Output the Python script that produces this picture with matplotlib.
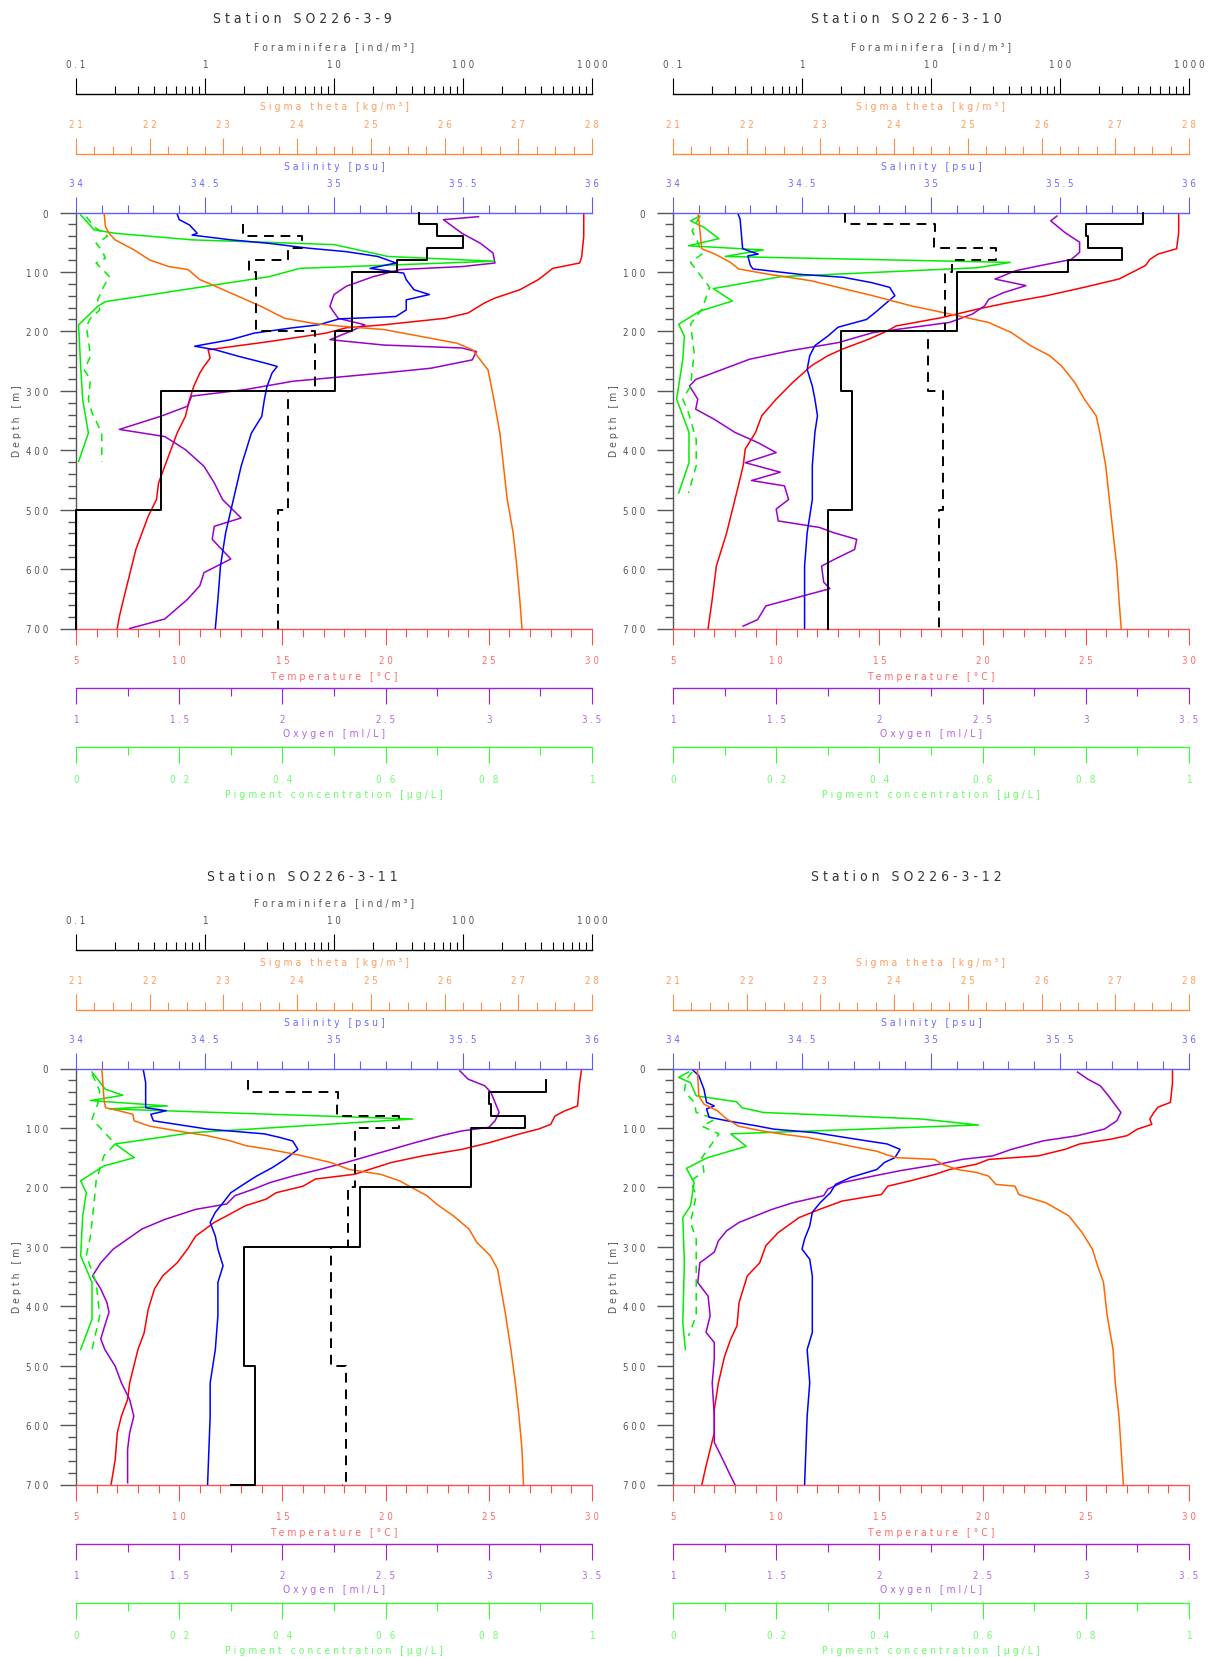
import numpy as np
import matplotlib
matplotlib.use("Agg")
import matplotlib.pyplot as plt
from matplotlib import font_manager
from matplotlib.ticker import MultipleLocator, LogLocator, FuncFormatter, NullFormatter

# ---------------------------------------------------------------------------
# CTD + plankton data, SO226 leg 3 stations 9-12
# profiles are (depth [m], value) pairs
# ---------------------------------------------------------------------------

stations = ["SO226-3-9", "SO226-3-10", "SO226-3-11", "SO226-3-12"]

# Temperature [degC]
temp_st9 = [(0, 29.6), (40, 29.6), (75, 29.5), (85, 29.4), (94, 28.1), (113, 27.4), (130, 26.5),
            (144, 25.3), (152, 24.8), (169, 24.0), (178, 22.9), (189, 19.9), (194, 18.1), (203, 17.1),
            (217, 14.4), (231, 11.4), (245, 11.5), (259, 11.2), (270, 11.0), (293, 10.7), (315, 10.5),
            (343, 10.3), (371, 9.9), (399, 9.6), (427, 9.3), (455, 9.0), (483, 8.9), (511, 8.5),
            (539, 8.2), (567, 7.9), (595, 7.7), (623, 7.5), (651, 7.3), (680, 7.1), (700, 7.0)]
temp_st10 = [(0, 29.5), (34, 29.5), (61, 29.4), (70, 28.5), (79, 28.1), (89, 27.9), (98, 27.4),
             (112, 26.6), (126, 24.9), (140, 23.1), (152, 21.2), (163, 19.7), (177, 18.0), (191, 15.8),
             (199, 15.4), (213, 14.5), (230, 13.2), (241, 12.5), (258, 11.7), (286, 10.8), (314, 10.0),
             (342, 9.3), (370, 9.0), (398, 8.5), (426, 8.4), (455, 8.2), (483, 8.0), (539, 7.6),
             (595, 7.1), (651, 6.9), (700, 6.7)]
temp_st11 = [(0, 29.5), (24, 29.4), (63, 29.3), (71, 28.7), (80, 28.2), (94, 28.0), (102, 27.4),
             (110, 26.5), (125, 25.0), (136, 23.7), (147, 21.8), (158, 20.3), (170, 19.2), (178, 18.5),
             (186, 16.6), (198, 16.0), (209, 14.7), (220, 14.2), (231, 13.2), (248, 12.3), (259, 11.7),
             (282, 10.8), (304, 10.4), (327, 9.9), (349, 9.2), (371, 8.8), (405, 8.5), (445, 8.3),
             (473, 8.0), (501, 7.8), (529, 7.6), (557, 7.5), (585, 7.2), (613, 7.0), (658, 6.9), (700, 6.7)]
temp_st12 = [(0, 29.2), (24, 29.2), (57, 29.1), (65, 28.5), (74, 28.3), (85, 28.1), (94, 28.2),
             (102, 27.5), (113, 27.0), (119, 26.2), (127, 24.7), (136, 24.0), (147, 22.7), (153, 20.3),
             (161, 19.7), (170, 18.4), (178, 17.7), (189, 16.5), (198, 15.4), (212, 15.1), (223, 13.2),
             (237, 12.1), (251, 11.1), (276, 10.1), (298, 9.5), (327, 9.2), (349, 8.6), (394, 8.2),
             (433, 8.1), (455, 7.8), (484, 7.5), (529, 7.2), (574, 7.0), (613, 7.0), (669, 6.6), (700, 6.4)]

# Oxygen [ml/L]
oxy_st9 = [(7, 2.95), (12, 2.78), (35, 2.87), (52, 2.96), (68, 3.02), (85, 3.03), (91, 2.87),
           (96, 2.57), (108, 2.44), (124, 2.31), (138, 2.25), (158, 2.23), (178, 2.27), (189, 2.40),
           (200, 2.33), (214, 2.23), (223, 2.49), (228, 2.87), (234, 2.94), (248, 2.92), (262, 2.72),
           (270, 2.49), (284, 2.05), (298, 1.82), (309, 1.56), (326, 1.54), (343, 1.41), (365, 1.21),
           (377, 1.43), (399, 1.53), (427, 1.62), (455, 1.67), (483, 1.71), (514, 1.80), (528, 1.67),
           (550, 1.66), (583, 1.75), (606, 1.62), (628, 1.60), (651, 1.54), (684, 1.43), (700, 1.26)]
oxy_st10 = [(6, 2.86), (14, 2.83), (34, 2.90), (50, 2.97), (67, 2.97), (79, 2.93), (90, 2.77),
            (98, 2.66), (112, 2.56), (123, 2.71), (135, 2.60), (146, 2.53), (157, 2.51), (171, 2.45),
            (185, 2.34), (202, 1.97), (219, 1.80), (233, 1.56), (247, 1.37), (264, 1.24), (281, 1.11),
            (292, 1.08), (314, 1.12), (331, 1.11), (348, 1.20), (370, 1.30), (387, 1.41), (404, 1.50),
            (421, 1.35), (437, 1.52), (451, 1.38), (460, 1.54), (483, 1.56), (499, 1.50), (519, 1.51),
            (530, 1.71), (539, 1.78), (550, 1.89), (567, 1.88), (584, 1.78), (595, 1.72), (622, 1.73),
            (633, 1.76), (648, 1.60), (662, 1.45), (685, 1.41), (696, 1.34)]
oxy_st11 = [(4, 2.86), (18, 2.90), (29, 2.98), (40, 3.01), (57, 3.03), (74, 3.05), (88, 3.03),
            (99, 3.00), (105, 2.87), (113, 2.77), (125, 2.64), (136, 2.53), (147, 2.42), (158, 2.31),
            (170, 2.18), (181, 2.05), (192, 1.94), (203, 1.86), (214, 1.77), (228, 1.73), (237, 1.58),
            (254, 1.43), (270, 1.32), (287, 1.25), (304, 1.18), (327, 1.12), (349, 1.08), (371, 1.12),
            (394, 1.15), (410, 1.16), (432, 1.14), (455, 1.12), (473, 1.14), (501, 1.19), (529, 1.22),
            (557, 1.26), (585, 1.28), (613, 1.26), (641, 1.25), (669, 1.25), (697, 1.25)]
oxy_st12 = [(6, 2.96), (18, 3.01), (29, 3.07), (46, 3.11), (60, 3.14), (74, 3.17), (88, 3.15),
            (102, 3.09), (113, 2.96), (122, 2.79), (136, 2.64), (147, 2.55), (153, 2.40), (161, 2.29),
            (172, 2.10), (181, 1.97), (192, 1.82), (203, 1.75), (214, 1.73), (226, 1.58), (237, 1.48),
            (248, 1.40), (259, 1.32), (273, 1.26), (290, 1.22), (309, 1.20), (327, 1.13), (360, 1.12),
            (383, 1.17), (416, 1.18), (444, 1.16), (461, 1.20), (489, 1.20), (529, 1.19), (585, 1.20),
            (629, 1.20), (657, 1.24), (679, 1.27), (700, 1.30)]

# Sigma theta [kg/m3]
sig_st9 = [(0, 21.38), (24, 21.40), (35, 21.45), (46, 21.53), (63, 21.79), (80, 22.00), (91, 22.26),
           (96, 22.52), (113, 22.68), (124, 22.89), (141, 23.20), (158, 23.51), (178, 23.83),
           (187, 24.24), (192, 24.66), (197, 25.18), (209, 25.70), (220, 26.17), (231, 26.38),
           (265, 26.59), (315, 26.67), (371, 26.75), (427, 26.80), (483, 26.85), (539, 26.93),
           (595, 26.98), (651, 27.02), (700, 27.05)]
sig_st10 = [(0, 21.34), (61, 21.39), (70, 21.57), (84, 21.78), (95, 21.89), (104, 22.30), (115, 22.88),
            (126, 23.24), (140, 23.71), (157, 24.23), (168, 24.65), (175, 24.91), (185, 25.28),
            (202, 25.59), (224, 25.85), (241, 26.11), (258, 26.27), (286, 26.45), (314, 26.58),
            (342, 26.74), (370, 26.79), (426, 26.87), (483, 26.92), (539, 26.97), (595, 27.02),
            (651, 27.05), (700, 27.08)]
sig_st11 = [(0, 21.35), (52, 21.38), (66, 21.40), (71, 21.58), (77, 21.77), (88, 21.79), (97, 22.00),
            (105, 22.37), (113, 22.78), (122, 23.10), (130, 23.31), (136, 23.62), (146, 24.04),
            (158, 24.45), (170, 24.71), (178, 25.13), (189, 25.39), (200, 25.55), (214, 25.76),
            (228, 25.89), (248, 26.12), (270, 26.33), (293, 26.44), (315, 26.62), (338, 26.72),
            (360, 26.75), (416, 26.83), (473, 26.90), (529, 26.96), (585, 27.01), (641, 27.05), (700, 27.07)]
sig_st12 = [(0, 21.33), (46, 21.35), (60, 21.42), (71, 21.60), (85, 21.73), (97, 21.89), (105, 22.20),
            (110, 22.46), (116, 22.83), (125, 23.19), (133, 23.50), (139, 23.76), (146, 23.92),
            (150, 24.03), (153, 24.55), (161, 24.65), (170, 24.86), (175, 25.12), (181, 25.28),
            (195, 25.38), (198, 25.64), (212, 25.69), (226, 26.06), (248, 26.37), (276, 26.55),
            (304, 26.69), (332, 26.76), (360, 26.84), (416, 26.89), (473, 26.97), (529, 27.00),
            (585, 27.05), (700, 27.11)]

# Salinity [psu]
sal_st9 = [(0, 34.39), (12, 34.40), (21, 34.44), (35, 34.47), (38, 34.45), (46, 34.60), (52, 34.75),
           (60, 34.90), (66, 35.05), (74, 35.17), (85, 35.24), (94, 35.14), (102, 35.27), (113, 35.28),
           (130, 35.31), (138, 35.37), (147, 35.28), (164, 35.28), (175, 35.24), (179, 35.02),
           (189, 34.94), (194, 34.84), (203, 34.69), (214, 34.60), (225, 34.46), (231, 34.54),
           (242, 34.63), (253, 34.73), (259, 34.78), (270, 34.76), (293, 34.74), (315, 34.73),
           (343, 34.72), (371, 34.68), (427, 34.64), (483, 34.61), (539, 34.58), (595, 34.56),
           (651, 34.55), (700, 34.54)]
sal_st10 = [(0, 34.25), (11, 34.26), (61, 34.27), (70, 34.33), (73, 34.29), (89, 34.30), (95, 34.31),
            (104, 34.49), (109, 34.66), (118, 34.77), (126, 34.84), (140, 34.86), (151, 34.83),
            (166, 34.79), (180, 34.75), (193, 34.64), (208, 34.60), (224, 34.55), (241, 34.53),
            (264, 34.52), (292, 34.54), (314, 34.55), (342, 34.56), (370, 34.55), (426, 34.54),
            (483, 34.54), (539, 34.52), (595, 34.51), (700, 34.51)]
sal_st11 = [(0, 34.26), (24, 34.27), (66, 34.27), (71, 34.35), (77, 34.29), (88, 34.30), (102, 34.51),
            (110, 34.73), (116, 34.79), (122, 34.84), (136, 34.86), (153, 34.81), (167, 34.76),
            (181, 34.70), (192, 34.66), (209, 34.60), (226, 34.57), (242, 34.54), (259, 34.52),
            (282, 34.54), (304, 34.55), (332, 34.57), (360, 34.55), (416, 34.55), (473, 34.54),
            (529, 34.52), (585, 34.52), (700, 34.51)]
sal_st12 = [(0, 34.07), (12, 34.10), (35, 34.12), (57, 34.13), (63, 34.16), (68, 34.13), (82, 34.14),
            (88, 34.21), (97, 34.33), (102, 34.39), (108, 34.55), (119, 34.71), (127, 34.83),
            (136, 34.88), (150, 34.86), (158, 34.82), (170, 34.79), (183, 34.69), (195, 34.63),
            (209, 34.61), (226, 34.57), (242, 34.54), (265, 34.53), (287, 34.51), (304, 34.50),
            (321, 34.53), (349, 34.54), (388, 34.54), (444, 34.54), (473, 34.52), (529, 34.53),
            (585, 34.52), (700, 34.51)]

# Pigment concentration [ug/L], two pigments per station (solid / dashed)
pig_a_st9 = [(4, 0.009), (29, 0.035), (35, 0.076), (46, 0.225), (54, 0.50), (74, 0.605), (82, 0.81),
             (94, 0.434), (108, 0.374), (150, 0.057), (158, 0.042), (189, 0.005), (259, 0.009),
             (315, 0.013), (371, 0.024), (419, 0.005)]
pig_b_st9 = [(7, 0.020), (24, 0.035), (40, 0.061), (52, 0.039), (63, 0.050), (77, 0.057), (85, 0.039),
             (108, 0.065), (124, 0.054), (147, 0.042), (164, 0.046), (178, 0.028), (192, 0.020),
             (214, 0.024), (242, 0.028), (265, 0.016), (281, 0.028), (315, 0.024), (337, 0.031),
             (371, 0.050), (419, 0.050)]
pig_a_st10 = [(6, 0.052), (14, 0.034), (25, 0.060), (44, 0.089), (56, 0.030), (63, 0.175), (74, 0.101),
              (84, 0.654), (93, 0.589), (108, 0.209), (128, 0.078), (149, 0.115), (166, 0.052),
              (188, 0.011), (208, 0.022), (247, 0.019), (292, 0.011), (314, 0.007), (342, 0.019),
              (370, 0.031), (421, 0.031), (472, 0.011)]
pig_b_st10 = [(6, 0.052), (31, 0.037), (50, 0.048), (70, 0.056), (84, 0.034), (126, 0.071),
              (163, 0.056), (188, 0.034), (236, 0.041), (292, 0.034), (314, 0.019), (337, 0.030),
              (382, 0.045), (426, 0.045), (472, 0.030)]
pig_a_st11 = [(6, 0.031), (35, 0.057), (45, 0.091), (54, 0.028), (63, 0.177), (68, 0.065), (85, 0.653),
              (108, 0.225), (127, 0.076), (150, 0.113), (164, 0.054), (189, 0.009), (209, 0.020),
              (248, 0.013), (315, 0.009), (360, 0.031), (422, 0.031), (473, 0.009)]
pig_b_st11 = [(9, 0.031), (38, 0.046), (60, 0.042), (85, 0.031), (127, 0.076), (147, 0.054),
              (189, 0.039), (226, 0.035), (282, 0.028), (315, 0.020), (360, 0.039), (416, 0.046),
              (473, 0.031)]
pig_a_st12 = [(6, 0.030), (15, 0.011), (24, 0.034), (46, 0.045), (56, 0.123), (66, 0.134), (74, 0.175),
              (85, 0.481), (95, 0.592), (110, 0.112), (131, 0.142), (150, 0.067), (168, 0.026),
              (192, 0.041), (231, 0.034), (251, 0.019), (327, 0.022), (428, 0.019), (473, 0.024)]
pig_b_st12 = [(6, 0.037), (18, 0.026), (38, 0.022), (57, 0.041), (74, 0.045), (85, 0.082), (97, 0.056),
              (110, 0.089), (150, 0.056), (174, 0.060), (189, 0.034), (214, 0.045), (259, 0.034),
              (287, 0.045), (416, 0.045), (450, 0.030)]

# Foraminifera [ind/m3] per net interval (interval edges in m, one value per interval)
for_edges_st9 = [0, 20, 40, 60, 80, 100, 200, 300, 500, 700]
for_a_st9 = [45.6, 63, 100, 53, 31, 13.7, 10.2, 0.46, 0]
for_b_edges_st9 = [20, 40, 60, 80, 100, 200, 300, 500, 700]
for_b_st9 = [1.98, 5.6, 4.4, 2.2, 2.5, 7.1, 4.4, 3.7]

for_edges_st10 = [0, 20, 40, 60, 80, 100, 200, 300, 500, 700]
for_a_st10 = [440, 158, 164, 302, 115, 16, 2.0, 2.43, 1.58]
for_b_st10 = [2.16, 10.8, 10.5, 32, 14.5, 12.9, 9.5, 12.3, 11.6]

for_edges_st11 = [20, 40, 60, 80, 100, 200, 300, 500, 700, 700]
for_a_st11 = [440, 158, 164, 302, 115, 16, 2.0, 2.43, 1.58]
for_b_st11 = [2.16, 10.8, 10.5, 32, 14.5, 12.9, 9.5, 12.3, 11.6]

# colours
C_TEMP, C_TEMP_AX, C_TEMP_TX = "#ff0000", "#ff5050", "#ff6a6a"
C_OXY, C_OXY_AX, C_OXY_TX = "#9a00cc", "#a020d8", "#b366e0"
C_PIG, C_PIG_AX, C_PIG_TX = "#00ee00", "#33ff33", "#66ff66"
C_SIG, C_SIG_AX, C_SIG_TX = "#ff6600", "#ff8a40", "#ff9c5c"
C_SAL, C_SAL_AX, C_SAL_TX = "#0000ff", "#5c5cff", "#6a6aff"
C_GREY = "#555555"

# narrowest sans available
fonts = font_manager.fontManager.ttflist
if any(f.name == "Liberation Sans Narrow" for f in fonts):
    FONT, STRETCH = "Liberation Sans Narrow", "normal"
elif any(f.name == "DejaVu Sans" and f.stretch == "condensed" for f in fonts):
    FONT, STRETCH = "DejaVu Sans", "condensed"
else:
    FONT, STRETCH = "Liberation Sans", "normal"
plt.rcParams["font.family"] = [FONT, "DejaVu Sans"]
plt.rcParams["font.stretch"] = STRETCH

TICK_FS = 7
LABEL_FS = 7.5
TITLE_FS = 10
DPI = 100
W, H = 1208, 1658


def spaced(s):
    # letter-spaced text, like the original plotting software
    return " ".join(s)


def profile(pairs):
    arr = np.array(pairs, dtype=float)
    return arr[:, 1], arr[:, 0]


def step(edges, vals):
    xs, ys = [], []
    for i, v in enumerate(vals):
        xs += [v, v]
        ys += [edges[i], edges[i + 1]]
    return np.clip(xs, 0.1, None), np.array(ys)


def style_scale(ax, side, offset, ax_color, txt_color, lim, major, minor, label, log=False, labelpad=None):
    ax.spines[side].set_visible(True)
    ax.spines[side].set_position(("outward", offset))
    ax.spines[side].set_color(ax_color)
    ax.spines[side].set_linewidth(1.0)
    ax.xaxis.set_ticks_position(side)
    ax.xaxis.set_label_position(side)
    if log:
        ax.set_xscale("log")
        ax.xaxis.set_major_locator(LogLocator(base=10, numticks=10))
        ax.xaxis.set_minor_locator(LogLocator(base=10, subs=np.arange(2, 10), numticks=10))
        ax.xaxis.set_minor_formatter(NullFormatter())
    else:
        ax.xaxis.set_major_locator(MultipleLocator(major))
        ax.xaxis.set_minor_locator(MultipleLocator(minor))
    ax.set_xlim(*lim)
    ax.xaxis.set_major_formatter(FuncFormatter(lambda v, pos: spaced(f"{v:g}")))
    pad = 6.3 if side == "top" else 7.8
    ax.tick_params(axis="x", which="major", direction="out", length=11.5, width=0.8,
                   color=ax_color, labelcolor=txt_color, labelsize=TICK_FS, pad=pad)
    ax.tick_params(axis="x", which="minor", direction="out", length=5.8, width=0.8, color=ax_color)
    if labelpad is None:
        labelpad = 6.2 if side == "top" else 4
    ax.set_xlabel(spaced(label), color=txt_color, fontsize=LABEL_FS, labelpad=labelpad)


def twin_scale(host, side, offset, ax_color, txt_color, lim, major, minor, label, log=False, labelpad=None):
    ax = host.twiny()
    for sp in ax.spines.values():
        sp.set_visible(False)
    style_scale(ax, side, offset, ax_color, txt_color, lim, major, minor, label, log, labelpad)
    return ax


fig = plt.figure(figsize=(W / DPI, H / DPI), dpi=DPI)

panels = [
    dict(name=stations[0], left=76, top=213.5, title_y=19,
         temp=temp_st9, oxy=oxy_st9, sig=sig_st9, sal=sal_st9, pig_a=pig_a_st9, pig_b=pig_b_st9,
         forams=[(for_edges_st9, for_a_st9, "-"), (for_b_edges_st9, for_b_st9, "--")]),
    dict(name=stations[1], left=673, top=213.5, title_y=19,
         temp=temp_st10, oxy=oxy_st10, sig=sig_st10, sal=sal_st10, pig_a=pig_a_st10, pig_b=pig_b_st10,
         forams=[(for_edges_st10, for_a_st10, "-"), (for_edges_st10, for_b_st10, "--")]),
    dict(name=stations[2], left=76, top=1069.5, title_y=877,
         temp=temp_st11, oxy=oxy_st11, sig=sig_st11, sal=sal_st11, pig_a=pig_a_st11, pig_b=pig_b_st11,
         forams=[(for_edges_st11, for_a_st11, "-"), (for_edges_st11, for_b_st11, "--")]),
    dict(name=stations[3], left=673, top=1069.5, title_y=877,
         temp=temp_st12, oxy=oxy_st12, sig=sig_st12, sal=sal_st12, pig_a=pig_a_st12, pig_b=pig_b_st12,
         forams=None),
]

PW, PH = 516, 416
OUT1, OUT2 = 59 * 0.72, 118.5 * 0.72
LW = 1.1

for p in panels:
    ax = fig.add_axes([p["left"] / W, 1 - (p["top"] + PH) / H, PW / W, PH / H])
    ax.patch.set_visible(False)
    for side in ("top", "right", "bottom"):
        ax.spines[side].set_visible(False)
    ax.spines["left"].set_color(C_GREY)
    ax.spines["left"].set_linewidth(1.0)

    # depth axis
    ax.set_ylim(700, 0)
    ax.yaxis.set_major_locator(MultipleLocator(100))
    ax.yaxis.set_minor_locator(MultipleLocator(20))
    ax.yaxis.set_major_formatter(FuncFormatter(lambda v, pos: spaced(f"{v:g}")))
    ax.tick_params(axis="y", which="major", length=11.5, width=1.0, color=C_GREY,
                   labelcolor=C_GREY, labelsize=TICK_FS, pad=8.5)
    ax.tick_params(axis="y", which="minor", length=5.8, width=1.0, color=C_GREY)
    ax.set_ylabel(spaced("Depth [m]"), color=C_GREY, fontsize=LABEL_FS)
    ax.yaxis.set_label_coords(-0.104, 0.5)

    # bottom scales
    style_scale(ax, "bottom", 0, C_TEMP_AX, C_TEMP_TX, (5, 30), 5, 1, "Temperature [°C]", labelpad=3.8)
    ax_oxy = twin_scale(ax, "bottom", OUT1, C_OXY_AX, C_OXY_TX, (1, 3.5), 0.5, 0.25, "Oxygen [ml/L]",
                        labelpad=2.6)
    ax_pig = twin_scale(ax, "bottom", OUT2, C_PIG_AX, C_PIG_TX, (0, 1), 0.2, 0.1,
                        "Pigment concentration [µg/L]", labelpad=3.5)
    # top scales
    ax_sal = twin_scale(ax, "top", 0, C_SAL_AX, C_SAL_TX, (34, 36), 0.5, 0.1, "Salinity [psu]")
    ax_sig = twin_scale(ax, "top", OUT1, C_SIG_AX, C_SIG_TX, (21, 28), 1, 0.25, "Sigma theta [kg/m³]",
                        labelpad=6.8)

    if p["forams"] is not None:
        ax_for = twin_scale(ax, "top", OUT2, "#000000", C_GREY, (0.1, 1000), None, None,
                            "Foraminifera [ind/m³]", log=True, labelpad=7)
        for edges, vals, ls in p["forams"]:
            x, y = step(edges, vals)
            ax_for.plot(x, y, color="black", lw=1.4,
                        linestyle="-" if ls == "-" else (0, (5, 3.5)), clip_on=False)

    x, y = profile(p["pig_b"])
    ax_pig.plot(x, y, color=C_PIG, lw=LW, linestyle=(0, (5, 4)))
    x, y = profile(p["pig_a"])
    ax_pig.plot(x, y, color=C_PIG, lw=LW)
    x, y = profile(p["sig"])
    ax_sig.plot(x, y, color=C_SIG, lw=LW)
    x, y = profile(p["sal"])
    ax_sal.plot(x, y, color=C_SAL, lw=LW)
    x, y = profile(p["oxy"])
    ax_oxy.plot(x, y, color=C_OXY, lw=LW)
    x, y = profile(p["temp"])
    ax.plot(x, y, color=C_TEMP, lw=LW)

    xc = 0.25 if p["left"] < W / 2 else 0.75
    fig.text(xc, 1 - p["title_y"] / H, spaced("Station " + p["name"]), ha="center", va="center",
             fontsize=TITLE_FS, color="#333333")

fig.savefig("out.png", dpi=DPI)
